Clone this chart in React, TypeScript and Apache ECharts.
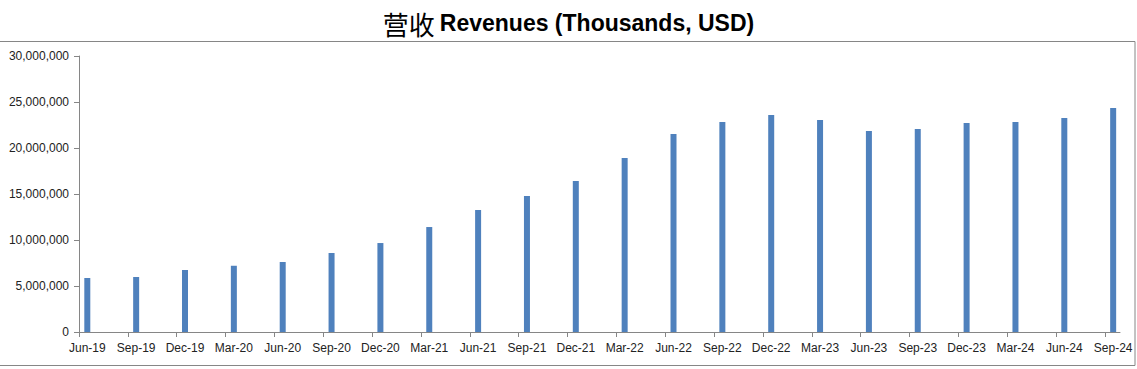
import React, { useEffect, useRef } from "react";
import * as echarts from "echarts";

const categories = [
  "Jun-19", "Sep-19", "Dec-19", "Mar-20", "Jun-20", "Sep-20", "Dec-20", "Mar-21",
  "Jun-21", "Sep-21", "Dec-21", "Mar-22", "Jun-22", "Sep-22", "Dec-22", "Mar-23",
  "Jun-23", "Sep-23", "Dec-23", "Mar-24", "Jun-24", "Sep-24",
];
const revenues = [
  5870000, 5980000, 6740000, 7200000, 7610000, 8590000, 9670000, 11410000,
  13260000, 14780000, 16410000, 18910000, 21520000, 22830000, 23590000, 23040000,
  21850000, 22070000, 22720000, 22830000, 23260000, 24350000,
];
const yTicks = [0, 5000000, 10000000, 15000000, 20000000, 25000000, 30000000];
const titleCn = "营收";
const titleEn = "Revenues (Thousands, USD)";

export default function App() {
  const ref = useRef<HTMLDivElement>(null);
  useEffect(() => {
    if (!ref.current) return;
    const chart = echarts.init(ref.current, undefined, { renderer: "svg" });
    const tickOffset = -0.17;
    const tickVals = categories.map((_, i) => i + tickOffset);
    const labelFont = "Liberation Sans";
    chart.setOption({
      animation: false,
      backgroundColor: "#ffffff",
      title: {
        text: `{cn|${titleCn}} {en|${titleEn}}`,
        left: "center",
        top: 5,
        textStyle: {
          rich: {
            cn: { fontFamily: "Noto Sans CJK SC", fontSize: 26, fontWeight: "normal", color: "#000" },
            en: { fontFamily: "Liberation Sans", fontSize: 23, fontWeight: "bold", color: "#000" },
          },
        },
      },
      graphic: [
        {
          type: "rect",
          shape: { x: -1, y: 41.5, width: 1136, height: 324 },
          style: { fill: "none", stroke: "#868686", lineWidth: 1 },
          silent: true,
        },
      ],
      grid: { left: 79, right: 17, top: 56, bottom: 37, outerBoundsMode: "none", containLabel: false },
      xAxis: {
        type: "value",
        min: tickOffset,
        max: 21.14,
        splitLine: { show: false },
        axisLine: { show: true, onZero: false, lineStyle: { color: "#868686" } },
        axisTick: { show: true, length: 5, customValues: tickVals, lineStyle: { color: "#868686" } },
        axisLabel: {
          customValues: categories.map((_, i) => i),
          formatter: (v: number) => categories[Math.round(v)] ?? "",
          fontFamily: labelFont,
          fontSize: 12,
          color: "#222",
          margin: 10,
        },
      },
      yAxis: {
        type: "value",
        min: yTicks[0],
        max: yTicks[yTicks.length - 1],
        interval: yTicks[1] - yTicks[0],
        splitLine: { show: false },
        axisLine: { show: true, onZero: false, lineStyle: { color: "#868686" } },
        axisTick: { show: true, length: 5, lineStyle: { color: "#868686" } },
        axisLabel: {
          formatter: (v: number) => v.toLocaleString("en-US"),
          fontFamily: labelFont,
          fontSize: 12,
          color: "#222",
          margin: 10,
        },
      },
      series: [
        {
          type: "bar",
          data: revenues.map((v, i) => [i, v]),
          barWidth: 6,
          itemStyle: { color: "#4F81BD" },
        },
      ],
    });
    return () => chart.dispose();
  }, []);
  return (
    <div
      ref={ref}
      style={{ position: "fixed", left: 0, top: 0, width: 1137, height: 369 }}
    />
  );
}
